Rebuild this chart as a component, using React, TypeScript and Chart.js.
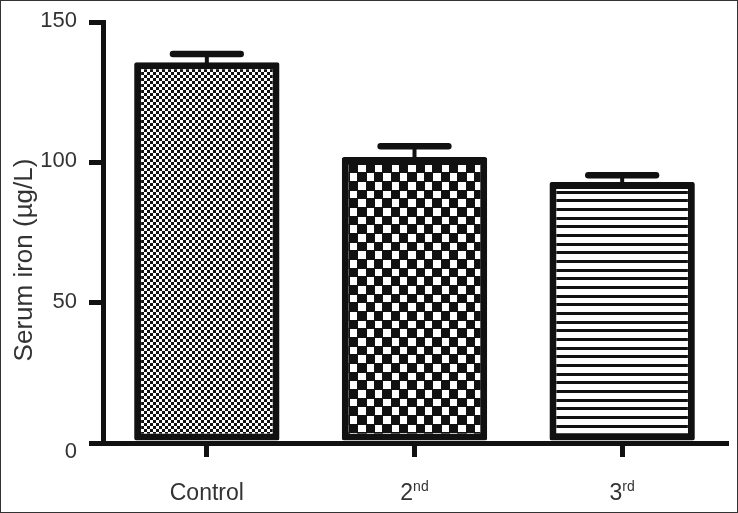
import React, { useEffect, useRef } from "react";
import { Chart, registerables } from "chart.js";

Chart.register(...registerables);

// ---- data ----
const categories = ["Control", "2", "3"];
const categorySup = ["", "nd", "rd"];
const serumIron = [135.7, 101.9, 93.0];
const serumIronErr = [2.9, 3.8, 2.4];
const yMin = 0;
const yMax = 150;
const yStep = 50;
const yTitle = "Serum iron (µg/L)";

const FONT = '"Liberation Sans", Arial, sans-serif';
const INK = "#111111";
const TEXT = "#333333";

function makeFinePattern(ctx: CanvasRenderingContext2D) {
  const c = document.createElement("canvas");
  c.width = 6;
  c.height = 6;
  const g = c.getContext("2d")!;
  g.fillStyle = INK;
  g.fillRect(0, 0, 6, 6);
  g.fillStyle = "#ffffff";
  g.fillRect(0, 0, 3, 3);
  g.fillRect(3, 3, 3, 3);
  return ctx.createPattern(c, "repeat")!;
}

function makeCoarsePattern(ctx: CanvasRenderingContext2D) {
  const W = 50;
  const H = 52;
  const c = document.createElement("canvas");
  c.width = W;
  c.height = H;
  const g = c.getContext("2d")!;
  g.fillStyle = INK;
  g.fillRect(0, 0, W, H);
  g.fillStyle = "#ffffff";
  for (let i = 0; i < 6; i++) {
    for (let j = 0; j < 6; j++) {
      if ((i + j) % 2 !== 0) continue;
      const x0 = Math.round((i * W) / 6);
      const x1 = Math.round(((i + 1) * W) / 6);
      const y0 = Math.round((j * H) / 6);
      const y1 = Math.round(((j + 1) * H) / 6);
      g.fillRect(x0, y0, x1 - x0 - 1, y1 - y0 - 1);
    }
  }
  return ctx.createPattern(c, "repeat")!;
}

function makeStripePattern(ctx: CanvasRenderingContext2D) {
  const c = document.createElement("canvas");
  c.width = 4;
  c.height = 26;
  const g = c.getContext("2d")!;
  g.fillStyle = "#ffffff";
  g.fillRect(0, 0, 4, 26);
  g.fillStyle = INK;
  g.fillRect(0, 0, 4, 3);
  g.fillRect(0, 9, 4, 3);
  g.fillRect(0, 17, 4, 3);
  return ctx.createPattern(c, "repeat")!;
}

const errorBarPlugin = {
  id: "errorBars",
  afterDatasetsDraw(chart: any) {
    const ctx = chart.ctx;
    const meta = chart.getDatasetMeta(0);
    const yScale = chart.scales.y;
    ctx.save();
    ctx.strokeStyle = INK;
    meta.data.forEach((el: any, i: number) => {
      const top = yScale.getPixelForValue(serumIron[i] + serumIronErr[i]);
      const barTop = el.y;
      const half = el.width * 0.233;
      ctx.lineCap = "butt";
      ctx.lineWidth = 4;
      ctx.beginPath();
      ctx.moveTo(el.x, barTop + 2);
      ctx.lineTo(el.x, top);
      ctx.stroke();
      ctx.lineCap = "round";
      ctx.lineWidth = 6.5;
      ctx.beginPath();
      ctx.moveTo(el.x - half, top);
      ctx.lineTo(el.x + half, top);
      ctx.stroke();
    });
    ctx.restore();
  },
};

const labelsPlugin = {
  id: "customLabels",
  afterDraw(chart: any) {
    const ctx = chart.ctx;
    const xScale = chart.scales.x;
    const yScale = chart.scales.y;
    ctx.save();
    ctx.fillStyle = TEXT;
    // y tick labels (bottom label nudged below the x axis, as in the original)
    ctx.font = `22px ${FONT}`;
    ctx.textAlign = "right";
    ctx.textBaseline = "middle";
    yScale.ticks.forEach((t: any) => {
      const y = yScale.getPixelForValue(t.value);
      const dy = t.value === yMin ? 9 : -1;
      ctx.fillText(String(t.value), 77, y + dy);
    });
    // x category labels with superscripts
    ctx.textBaseline = "alphabetic";
    ctx.textAlign = "left";
    categories.forEach((base, i) => {
      const x = xScale.getPixelForValue(i);
      const sup = categorySup[i];
      ctx.font = `23px ${FONT}`;
      const wb = ctx.measureText(base).width;
      ctx.font = `14px ${FONT}`;
      const ws = sup ? ctx.measureText(sup).width : 0;
      const start = x - (wb + ws) / 2;
      ctx.font = `23px ${FONT}`;
      ctx.fillText(base, start, 500);
      if (sup) {
        ctx.font = `14px ${FONT}`;
        ctx.fillText(sup, start + wb, 491);
      }
    });
    // y title
    ctx.translate(32, 260);
    ctx.rotate(-Math.PI / 2);
    ctx.font = `26px ${FONT}`;
    ctx.textAlign = "center";
    ctx.fillText(yTitle, 0, 0);
    ctx.restore();
    // frame
    ctx.save();
    ctx.strokeStyle = "#333333";
    ctx.lineWidth = 1;
    ctx.strokeRect(0.5, 0.5, chart.width - 1, chart.height - 1);
    ctx.restore();
  },
};

export default function App() {
  const canvasRef = useRef<HTMLCanvasElement | null>(null);

  useEffect(() => {
    document.body.style.margin = "0";
    const canvas = canvasRef.current!;
    const ctx = canvas.getContext("2d")!;
    const patterns = [makeFinePattern(ctx), makeCoarsePattern(ctx), makeStripePattern(ctx)];

    const chart = new Chart(ctx, {
      type: "bar",
      data: {
        labels: categories,
        datasets: [
          {
            data: serumIron,
            backgroundColor: patterns,
            borderColor: INK,
            borderWidth: 7,
            borderSkipped: false,
            borderRadius: 2,
            barPercentage: 0.7,
            categoryPercentage: 1,
          },
        ],
      },
      options: {
        animation: false,
        responsive: true,
        maintainAspectRatio: false,
        layout: { padding: { left: 0, right: 12, top: 22, bottom: 0 } },
        plugins: {
          legend: { display: false },
          tooltip: { enabled: false },
          title: { display: false },
        },
        scales: {
          x: {
            type: "category",
            offset: true,
            grid: {
              offset: false,
              drawOnChartArea: false,
              drawTicks: true,
              tickLength: 14,
              lineWidth: 5,
              color: INK,
            },
            border: { display: true, width: 5, color: INK, z: 1 },
            ticks: { display: false },
            afterFit: (scale: any) => {
              scale.height = 70;
            },
          },
          y: {
            min: yMin,
            max: yMax,
            ticks: {
              stepSize: yStep,
              display: false,
            },
            grid: {
              drawOnChartArea: false,
              drawTicks: true,
              tickLength: 14,
              lineWidth: 5,
              color: INK,
            },
            border: { display: true, width: 5, color: INK, z: 1 },
            afterFit: (scale: any) => {
              scale.width = 103;
            },
          },
        },
      },
      plugins: [errorBarPlugin, labelsPlugin],
    });

    return () => chart.destroy();
  }, []);

  return (
    <div style={{ position: "absolute", left: 0, top: 0, width: 738, height: 513, background: "#ffffff" }}>
      <canvas ref={canvasRef} />
    </div>
  );
}
